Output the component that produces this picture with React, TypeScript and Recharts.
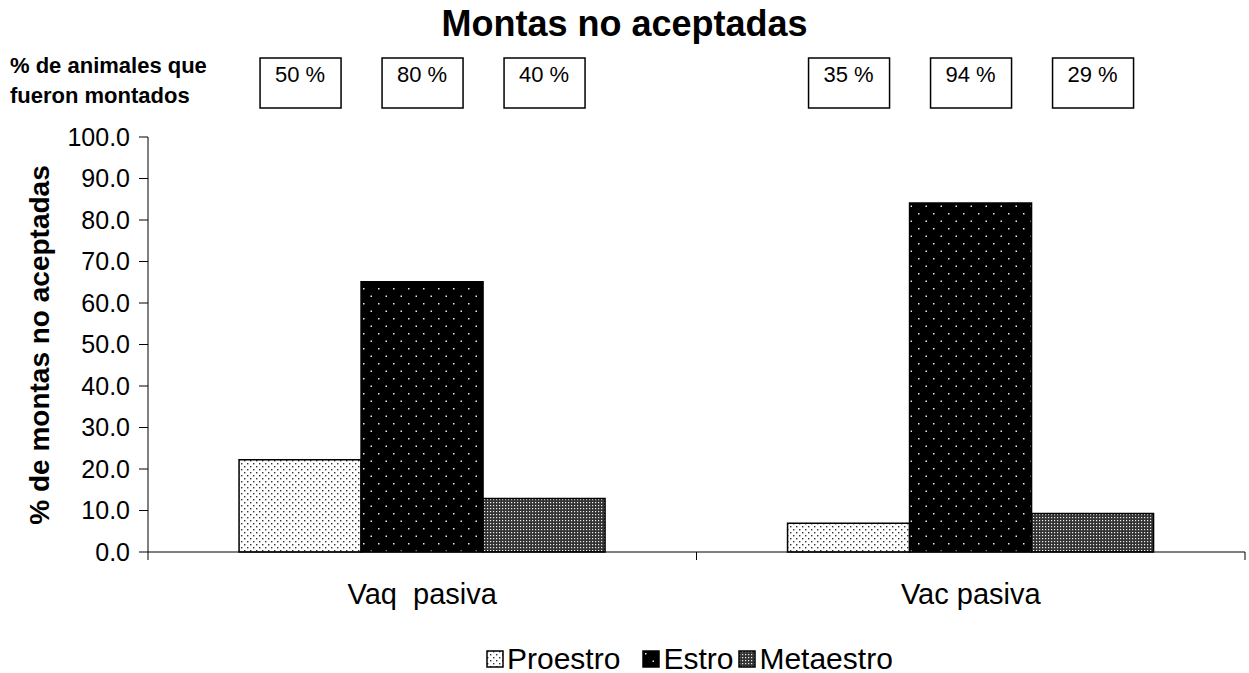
import { BarChart, Bar, XAxis, YAxis, LabelList } from "recharts"

const categories = ["Vaq  pasiva", "Vac pasiva"]
const proestro = [22.2, 6.9]
const estro = [65.1, 84.1]
const metaestro = [12.9, 9.3]
const proestroMontados = ["50 %", "35 %"]
const estroMontados = ["80 %", "94 %"]
const metaestroMontados = ["40 %", "29 %"]
const yTicks = [0, 10, 20, 30, 40, 50, 60, 70, 80, 90, 100]

const data = categories.map((name, i) => ({
  name,
  Proestro: proestro[i],
  Estro: estro[i],
  Metaestro: metaestro[i],
  proestroPct: proestroMontados[i],
  estroPct: estroMontados[i],
  metaestroPct: metaestroMontados[i],
}))

const FONT = "'Liberation Sans', Arial, sans-serif"
const HALF_BAND = 1097 / categories.length / 2

const series = [
  { key: "Proestro", fill: "url(#pat-proestro)", pct: "proestroPct", gap: 22 },
  { key: "Estro", fill: "url(#pat-estro)", pct: "estroPct", gap: 5 },
  { key: "Metaestro", fill: "url(#pat-metaestro)", pct: "metaestroPct", gap: 0 },
]

// box above each bar with the "% de animales que fueron montados" value
const PctBox = (props: any) => {
  const { x, width, value } = props
  const cx = x + width / 2
  return (
    <g>
      <rect x={cx - 40} y={58} width={81} height={50} fill="#fff" stroke="#000" strokeWidth={1.5} />
      <text x={cx} y={82} textAnchor="middle" fontFamily={FONT} fontSize={22} fill="#000">
        {value}
      </text>
    </g>
  )
}

const CategoryTick = (props: any) => {
  const { x, y, payload } = props
  return (
    <g>
      <line x1={x - HALF_BAND} x2={x - HALF_BAND} y1={y} y2={y + 8} stroke="#000" />
      <line x1={x + HALF_BAND} x2={x + HALF_BAND} y1={y} y2={y + 8} stroke="#000" />
      <text x={x} y={y + 52} textAnchor="middle" fontFamily={FONT} fontSize={29} fill="#000" style={{ whiteSpace: "pre" }}>
        {payload.value}
      </text>
    </g>
  )
}

export default function App() {
  return (
    <div style={{ position: "absolute", left: 0, top: 0, width: 1249, height: 673, background: "#fff" }}>
      <svg width={0} height={0} style={{ position: "absolute" }}>
        <defs>
          <pattern id="pat-proestro" width={6} height={6} patternUnits="userSpaceOnUse">
            <rect width={6} height={6} fill="#fff" />
            <rect x={1} y={1} width={1.4} height={1.4} fill="#333" />
            <rect x={4} y={4} width={1.4} height={1.4} fill="#333" />
          </pattern>
          <pattern id="pat-estro" width={15} height={15} patternUnits="userSpaceOnUse">
            <rect width={15} height={15} fill="#000" />
            <rect x={3} y={3} width={1.5} height={1.5} fill="#eee" />
            <rect x={10.5} y={10.5} width={1.5} height={1.5} fill="#eee" />
          </pattern>
          <pattern id="pat-metaestro" width={3} height={3} patternUnits="userSpaceOnUse">
            <rect width={3} height={3} fill="#333" />
            <rect x={1} y={1} width={1.2} height={1.2} fill="#eee" />
          </pattern>
        </defs>
      </svg>

      <div style={{ position: "absolute", left: 0, top: 3, width: 1249, textAlign: "center", fontFamily: FONT, fontSize: 36, fontWeight: "bold" }}>
        Montas no aceptadas
      </div>
      <div style={{ position: "absolute", left: 10, top: 51, fontFamily: FONT, fontSize: 22, fontWeight: "bold", lineHeight: "30px" }}>
        % de animales que
        <br />
        fueron montados
      </div>
      <div
        style={{
          position: "absolute",
          left: 40,
          top: 345,
          transform: "translate(-50%, -50%) rotate(-90deg)",
          fontFamily: FONT,
          fontSize: 28,
          fontWeight: "bold",
          whiteSpace: "nowrap",
        }}
      >
        % de montas no aceptadas
      </div>

      <BarChart
        width={1249}
        height={673}
        data={data}
        margin={{ top: 137, right: 4, bottom: 61, left: 48 }}
        barCategoryGap="16.6%"
        barGap={0}
      >
        <XAxis
          dataKey="name"
          axisLine={{ stroke: "#000" }}
          tickLine={false}
          tickSize={0}
          tickMargin={0}
          tick={<CategoryTick />}
          interval={0}
          height={60}
        />
        <YAxis
          domain={[0, 100]}
          ticks={yTicks}
          interval={0}
          width={100}
          tickFormatter={(v: number) => v.toFixed(1)}
          axisLine={{ stroke: "#000" }}
          tickLine={{ stroke: "#000" }}
          tickSize={9}
          tickMargin={9}
          tick={{ fontFamily: FONT, fontSize: 25, fill: "#000" }}
        />
        {series.map((s) => (
          <Bar key={s.key} dataKey={s.key} fill={s.fill} stroke="#000" strokeWidth={1.5} isAnimationActive={false}>
            <LabelList dataKey={s.pct} content={<PctBox />} />
          </Bar>
        ))}
      </BarChart>

      <div
        style={{
          position: "absolute",
          left: 486,
          top: 642,
          display: "flex",
          alignItems: "center",
          fontFamily: FONT,
          fontSize: 30,
          whiteSpace: "nowrap",
        }}
      >
        {series.map((s) => (
          <div key={s.key} style={{ display: "flex", alignItems: "center", marginRight: s.gap }}>
            <svg width={18} height={18} style={{ marginRight: 3 }}>
              <rect x={1} y={1} width={16} height={16} fill={s.fill} stroke="#000" strokeWidth={1.5} />
            </svg>
            <span>{s.key}</span>
          </div>
        ))}
      </div>
    </div>
  )
}
